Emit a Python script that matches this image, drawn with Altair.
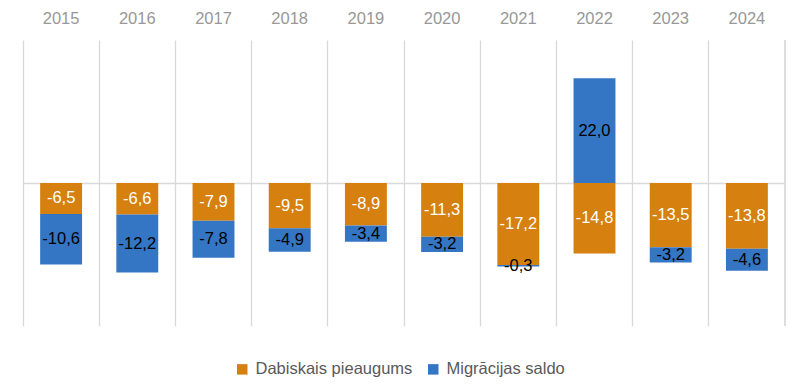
import altair as alt
import pandas as pd

years = ["2015", "2016", "2017", "2018", "2019", "2020", "2021", "2022", "2023", "2024"]
natural = [-6.5, -6.6, -7.9, -9.5, -8.9, -11.3, -17.2, -14.8, -13.5, -13.8]
migration = [-10.6, -12.2, -7.8, -4.9, -3.4, -3.2, -0.3, 22.0, -3.2, -4.6]
series = ["Dabiskais pieaugums", "Migrācijas saldo"]
colors = ["#D5800F", "#3476C4"]
label_colors = ["#FFFFFF", "#000000"]

rows = []
for i, y in enumerate(years):
    rows.append({"year": y, "series": series[0], "value": natural[i], "ord": 0})
    rows.append({"year": y, "series": series[1], "value": migration[i], "ord": 1})
df = pd.DataFrame(rows)

FONT = "Liberation Sans"
GRID = "#D9D9D9"

base = alt.Chart(df).transform_stack(
    stack="value", groupby=["year"], as_=["v0", "v1"], sort=[alt.SortField("ord")]
).transform_calculate(
    mid="(datum.v0 + datum.v1) / 2",
    lab="replace(replace(format(datum.value, '.1f'), '.', ','), '\u2212', '-')",
)

yscale = alt.Scale(domain=[-30, 30], nice=False, zero=False)

x_enc = alt.X(
    "year:N", sort=years, title=None,
    scale=alt.Scale(paddingInner=0, paddingOuter=0),
    axis=alt.Axis(
        orient="top", domain=False, ticks=False, tickSize=0, labelPadding=14,
        labelFont=FONT, labelFontSize=16.5, labelColor="#989898", labelAngle=0,
        grid=True, gridColor=GRID, gridWidth=1.3, bandPosition=0,
    ),
)

bars = base.mark_bar(width=alt.RelativeBandSize(0.55)).encode(
    x=x_enc,
    y=alt.Y(
        "v0:Q", title=None, scale=yscale,
        axis=alt.Axis(
            values=[0], labels=False, ticks=False, domain=False,
            grid=True, gridColor=GRID, gridWidth=1.3,
        ),
    ),
    y2="v1:Q",
    color=alt.Color(
        "series:N", scale=alt.Scale(domain=series, range=colors), title=None,
        legend=alt.Legend(
            orient="none", direction="horizontal", legendX=211, legendY=321,
            symbolType="square", symbolSize=110, symbolStrokeWidth=0,
            labelFont=FONT, labelFontSize=16.5, labelColor="#595959",
            columnPadding=12, labelOffset=5,
        ),
    ),
)

edge = alt.Chart(df).transform_filter(
    alt.datum.year == years[-1]
).mark_rule(color=GRID, strokeWidth=1.3).encode(
    x=alt.X("year:N", sort=years, bandPosition=1),
    y=alt.datum(-30),
    y2=alt.datum(30),
)

texts = base.mark_text(font=FONT, fontSize=16.5, baseline="middle").encode(
    x=alt.X("year:N", sort=years),
    y=alt.Y("mid:Q"),
    text="lab:N",
    color=alt.Color("series:N", scale=alt.Scale(domain=series, range=label_colors), legend=None),
)

chart = alt.layer(bars, texts, edge).resolve_scale(color="independent").properties(
    width=762, height=286,
    autosize=alt.AutoSizeParams(type="none"),
    padding={"left": 15, "top": 32, "right": 5, "bottom": 51},
).configure_view(stroke=None)

chart.save("out.html", embed_options={"renderer": "svg", "actions": False})
